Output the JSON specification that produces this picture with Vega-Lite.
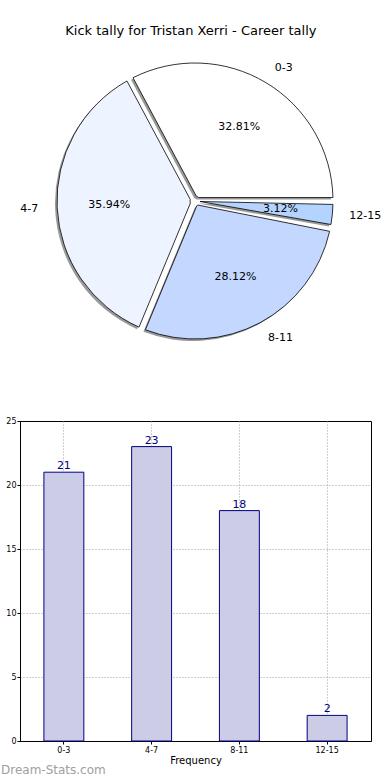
{
  "$schema": "https://vega.github.io/schema/vega-lite/v6.json",
  "padding": {"left": 0, "top": 25, "right": 0, "bottom": 0},
  "title": {"text": "Kick tally for Tristan Xerri - Career tally", "font": "DejaVu Sans", "fontSize": 13, "fontWeight": "normal", "color": "#000000", "anchor": "middle", "offset": 14},
  "config": {"font": "DejaVu Sans", "view": {"stroke": null}},
  "spacing": 66,
  "datasets": {
    "kicks": [
      {"cat": "0-3", "i": 1, "count": 21, "pct": "32.81%"},
      {"cat": "4-7", "i": 2, "count": 23, "pct": "35.94%"},
      {"cat": "8-11", "i": 3, "count": 18, "pct": "28.12%"},
      {"cat": "12-15", "i": 4, "count": 2, "pct": "3.12%"}
    ]
  },
  "vconcat": [
    {
      "width": 350,
      "height": 298,
      "data": {"name": "kicks"},
      "encoding": {
        "theta": {"field": "count", "type": "quantitative", "stack": true, "scale": {"range": [1.5707963, -4.712389]}},
        "order": {"field": "i", "type": "quantitative"}
      },
      "layer": [
        {
          "mark": {"type": "arc", "radius": 138, "innerRadius": 5, "padAngle": 0.05, "fill": "#808080", "opacity": 0.8, "xOffset": -2, "yOffset": 2}
        },
        {
          "mark": {"type": "arc", "radius": 138, "innerRadius": 5, "padAngle": 0.05, "stroke": "#000000", "strokeWidth": 0.8},
          "encoding": {
            "color": {"field": "cat", "type": "nominal", "sort": ["0-3", "4-7", "8-11", "12-15"],
              "scale": {"domain": ["0-3", "4-7", "8-11", "12-15"], "range": ["#ffffff", "#edf3ff", "#c4d8ff", "#b4d4ff"]},
              "legend": null}
          }
        },
        {
          "mark": {"type": "text", "radius": 86, "fontSize": 11, "color": "#000000", "align": "center", "baseline": "middle"},
          "encoding": {"text": {"field": "pct"}}
        },
        {
          "mark": {"type": "text", "radius": 155, "fontSize": 11, "color": "#000000", "align": "left", "baseline": "middle"},
          "encoding": {"text": {"condition": {"test": "datum.cat == '4-7'", "value": ""}, "field": "cat"}}
        },
        {
          "mark": {"type": "text", "radius": 157, "fontSize": 11, "color": "#000000", "align": "right", "baseline": "middle"},
          "encoding": {"text": {"condition": {"test": "datum.cat != '4-7'", "value": ""}, "field": "cat"}}
        }
      ]
    },
    {
      "width": 351,
      "height": 320,
      "view": {"stroke": "#000000", "strokeWidth": 1},
      "data": {"name": "kicks"},
      "title": {"text": "Dream-Stats.com", "orient": "bottom", "anchor": "start", "frame": "group", "color": "#a0a0a0", "fontSize": 12, "fontWeight": "normal", "offset": 0, "dx": -19},
      "encoding": {
        "x": {"field": "cat", "type": "nominal", "sort": ["0-3", "4-7", "8-11", "12-15"],
          "scale": {"paddingInner": 0.545, "paddingOuter": 0.2725},
          "axis": {"title": "Frequency", "labelAngle": 0, "labelFontSize": 8, "labelColor": "#000000", "titleFontSize": 10, "titleFontWeight": "normal", "titleColor": "#000000", "titlePadding": 1, "labelPadding": 2,
            "grid": true, "bandPosition": 0.5, "gridDash": [1, 2], "gridColor": "#a0a0a0", "gridWidth": 1, "tickSize": 3, "tickColor": "#000000", "domainColor": "#000000"}},
        "y": {"field": "count", "type": "quantitative", "scale": {"domain": [0, 25]},
          "axis": {"title": null, "values": [0, 5, 10, 15, 20, 25], "labelFontSize": 8, "labelColor": "#000000", "labelPadding": 1,
            "grid": true, "gridDash": [1, 2], "gridColor": "#a0a0a0", "gridWidth": 1,
            "gridOpacity": {"condition": {"test": "datum.value == 25 || datum.value == 0", "value": 0}, "value": 1},
            "tickSize": 3, "tickColor": "#000000", "domainColor": "#000000"}}
      },
      "layer": [
        {"mark": {"type": "bar", "fill": "#cccce6", "stroke": "#000080", "strokeWidth": 1}},
        {"mark": {"type": "text", "color": "#000080", "fontSize": 11, "baseline": "bottom", "dy": -1},
          "encoding": {"text": {"field": "count", "type": "quantitative"}}}
      ]
    }
  ]
}
